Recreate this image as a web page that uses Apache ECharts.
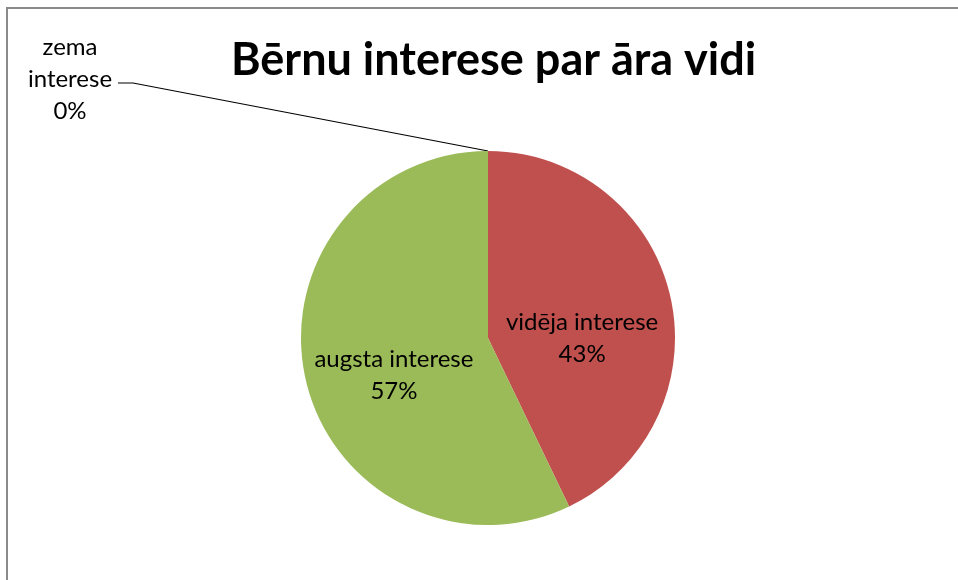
<!DOCTYPE html>
<html>
<head>
<meta charset="utf-8">
<script src="https://cdn.jsdelivr.net/npm/echarts@6/dist/echarts.min.js"></script>
<style>
html,body{margin:0;padding:0;background:#fff;}
#c{width:958px;height:580px;}
</style>
</head>
<body>
<div id="c"></div>
<script>
var titleText = 'Bērnu interese par āra vidi';
var categories = ['zema interese', 'vidēja interese', 'augsta interese'];
var values = [0, 3, 4];
var colors = ['#4F81BD', '#C0504D', '#9BBB59'];

var labelOffsets = [[0, 0], [0, 22], [0, 16]];

var chart = echarts.init(document.getElementById('c'));
var FONT = 'Lato';

var data = categories.map(function (name, i) {
  var item = { name: name, value: values[i], itemStyle: { color: colors[i] } };
  if (values[i] === 0) {
    item.label = { position: 'outside' };
    item.labelLine = { show: true };
  } else {
    item.label = { position: 'inside', offset: labelOffsets[i] };
    item.labelLine = { show: false };
  }
  return item;
});

chart.setOption({
  animation: false,
  backgroundColor: '#fff',
  title: {
    text: titleText,
    left: 226,
    top: 33,
    textStyle: { fontFamily: FONT, fontWeight: 'bold', fontSize: 45, color: '#000' }
  },
  graphic: [{
    type: 'rect',
    shape: { x: 7, y: 8, width: 1000, height: 1000 },
    style: { fill: null, stroke: '#8a8a8a', lineWidth: 2 },
    silent: true
  }],
  series: [{
    type: 'pie',
    center: [488, 338],
    radius: 187,
    startAngle: 90,
    clockwise: true,
    avoidLabelOverlap: false,
    data: data,
    label: {
      show: true,
      fontFamily: FONT,
      fontSize: 24,
      color: '#000',
      lineHeight: 32,
      formatter: function (p) {
        var name = p.value === 0 ? p.name.replace(' ', '\n') : p.name;
        return name + '\n' + Math.round(p.percent) + '%';
      }
    },
    labelLine: { lineStyle: { color: '#000', width: 1.2 }, smooth: false },
    labelLayout: function (params) {
      if (params.dataIndex === 0) {
        var p0 = params.labelLinePoints ? params.labelLinePoints[0] : [488, 151];
        return {
          x: 70, y: 79, align: 'center', verticalAlign: 'middle',
          labelLinePoints: [p0, [133, 83], [118, 83]]
        };
      }
      return {};
    }
  }]
});
</script>
</body>
</html>
